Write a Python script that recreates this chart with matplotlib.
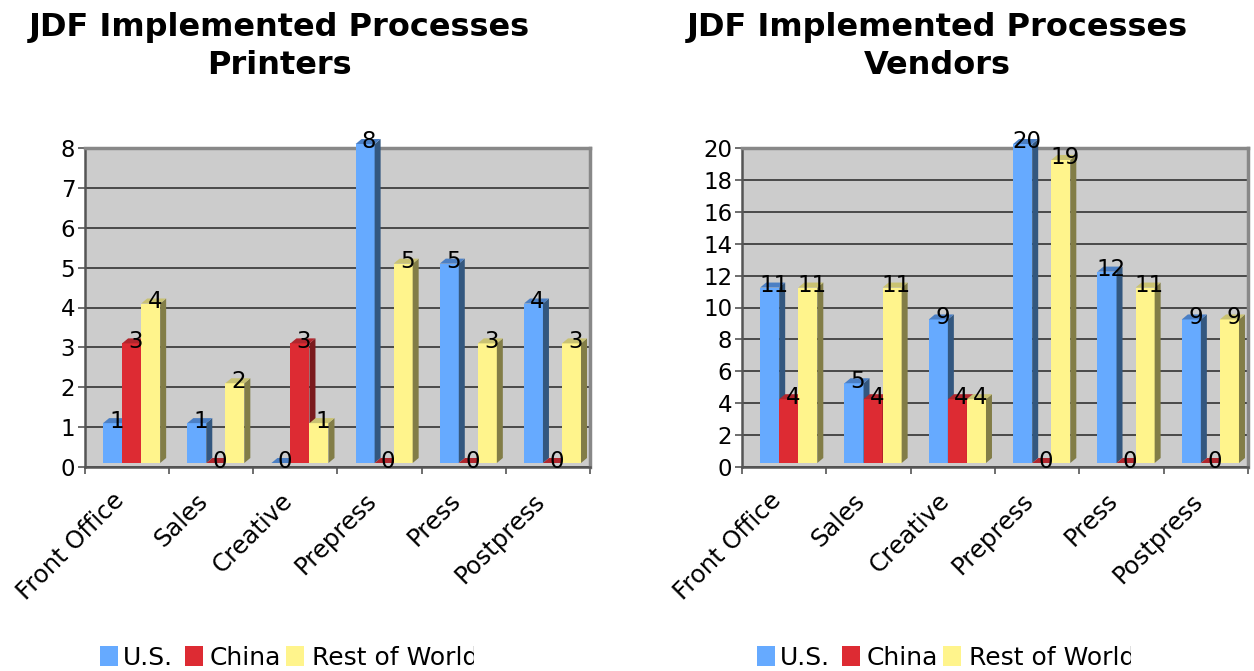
import matplotlib
matplotlib.use('Agg')
import matplotlib.pyplot as plt
from matplotlib.patches import Polygon, Rectangle
from matplotlib.transforms import Bbox

categories = ["Front Office", "Sales", "Creative", "Prepress", "Press", "Postpress"]
series_names = ["U.S.", "China", "Rest of World"]

printers_us = [1, 1, 0, 8, 5, 4]
printers_china = [3, 0, 3, 0, 0, 0]
printers_rest = [4, 2, 1, 5, 3, 3]

vendors_us = [11, 5, 9, 20, 12, 9]
vendors_china = [4, 4, 4, 0, 0, 0]
vendors_rest = [11, 11, 4, 19, 11, 9]

front_colors = ["#66aaff", "#dd2b33", "#fff48c"]
side_colors = ["#33577f", "#7a1a1d", "#827d47"]
top_colors = ["#4b7fc4", "#b0262d", "#c9c272"]

W, H = 1254, 671
fig = plt.figure(figsize=(W / 100, H / 100), dpi=100)


def px_axes(x0, x1, ytop, ybot):
    return fig.add_axes([x0 / W, 1 - ybot / H, (x1 - x0) / W, (ybot - ytop) / H])


def draw_chart(ax, title, series, ymax, ystep, title_x, legend_x):
    n = len(categories)
    ax.set_xlim(-0.5, n - 0.5)
    ax.set_ylim(0, ymax)
    ax.set_facecolor("#cccccc")

    # data units per pixel, used for the fake 3D depth
    ux = n / ax.bbox.width
    uy = ymax / ax.bbox.height
    dx, dy = 6 * ux, 5 * uy
    lift = 4 * uy
    width = 0.226
    offsets = [-0.172, 0.054, 0.28]

    for i in range(n):
        for s, values in enumerate(series):
            v = values[i]
            x0 = i + offsets[s] - width / 2
            x1 = x0 + width
            y0, y1 = lift, v + lift
            ax.add_patch(Rectangle((x0, y0), width, v, fc=front_colors[s], ec='none',
                                   zorder=3, clip_on=False))
            ax.add_patch(Polygon([(x1, y0), (x1 + dx, y0 + dy), (x1 + dx, y1 + dy), (x1, y1)],
                                 closed=True, fc=side_colors[s], ec='none', zorder=3, clip_on=False))
            ax.add_patch(Polygon([(x0, y1), (x1, y1), (x1 + dx, y1 + dy), (x0 + dx, y1 + dy)],
                                 closed=True, fc=top_colors[s], ec='none', zorder=3, clip_on=False))
            ax.text((x0 + x1) / 2 + 4 * ux, v + 6 * uy, str(v), ha='center', va='center',
                    fontsize=16.5, zorder=6, clip_on=False)

    ax.set_yticks(range(0, ymax + 1, ystep))
    ax.tick_params(axis='y', labelsize=16.5, length=5, width=1.2, color='#555555', pad=2)
    ax.grid(axis='y', color='#333333', lw=1.2)
    ax.set_axisbelow(True)

    ax.set_xticks([k - 0.5 for k in range(n + 1)])
    ax.set_xticklabels([])
    ax.tick_params(axis='x', length=5, width=1.2, color='#555555')
    for i, name in enumerate(categories):
        ax.text(i - 7 * ux, -30 / ax.bbox.height, name, transform=ax.get_xaxis_transform(),
                rotation=45, rotation_mode='anchor', ha='right', va='center', fontsize=17.5)

    for side in ['left', 'bottom']:
        ax.spines[side].set_color('#555555')
        ax.spines[side].set_linewidth(1.8)
    for side in ['top', 'right']:
        ax.spines[side].set_color('#888888')
        ax.spines[side].set_linewidth(2.5)

    line1, line2 = title
    fig.text(title_x / W, 1 - 36 / H, line1, ha='center', va='baseline',
             fontsize=23, fontweight='bold')
    fig.text(title_x / W, 1 - 74 / H, line2, ha='center', va='baseline',
             fontsize=23, fontweight='bold')

    # legend row under the chart, last entry cut off at the chart edge
    box_x = [0, 85, 186]
    text_x = [23, 110, 212]
    for s, name in enumerate(series_names):
        fig.patches.append(Rectangle(((legend_x + box_x[s]) / W, 1 - 666 / H), 18 / W, 20 / H,
                                     transform=fig.transFigure, fc=front_colors[s], ec='none'))
        t = fig.text((legend_x + text_x[s]) / W, 1 - 665 / H, name, ha='left', va='baseline',
                     fontsize=18)
        t.set_clip_box(Bbox.from_extents(0, 0, legend_x + 374, H))


ax1 = px_axes(85, 590, 148, 467)
draw_chart(ax1, ("JDF Implemented Processes", "Printers"),
           [printers_us, printers_china, printers_rest], 8, 1, 279, 100)

ax2 = px_axes(742, 1248, 148, 467)
draw_chart(ax2, ("JDF Implemented Processes", "Vendors"),
           [vendors_us, vendors_china, vendors_rest], 20, 2, 937, 757)

fig.savefig("out.png", dpi=100)
